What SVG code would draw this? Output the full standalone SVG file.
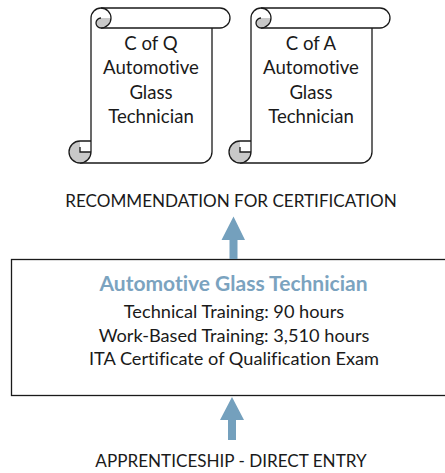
<svg xmlns="http://www.w3.org/2000/svg" width="445" height="473" viewBox="0 0 445 473">
<defs>
<style>
text{font-family:"Lato","Carlito","Liberation Sans",sans-serif;fill:#1a1a1a;text-anchor:middle;font-variant-ligatures:none}
.s{font-size:18.6px}
.m{font-size:18.2px}
.u{font-size:17.1px}
.t{font-weight:700;font-size:21px;fill:#7ba3bf}
.o{fill:#fff;stroke:#1a1a1a;stroke-width:1.3}
.n{fill:none;stroke:#1a1a1a;stroke-width:1.3}
.c{fill:#c8c8c8;stroke:none}
.a{fill:#74a0bd}
</style>
<g id="scroll">
<path class="o" d="M91 152V18A10 10 0 0 1 101 8H220A10 10 0 0 1 220 28H101M212 28V152A11 11 0 0 1 201 163H80"/>
<path class="c" d="M101 28A5 5 0 0 1 101 18H110.500A10 10 0 0 1 101 28Z"/>
<path class="n" d="M101 8A10 10 0 0 1 101 28A5 5 0 0 1 101 18"/>
<path class="c" d="M80 141A11 11 0 1 0 91 152H80Z"/>
<path class="n" d="M91 152A11 11 0 0 1 80 163A11 11 0 0 1 80 141H91M91 152H80V147"/>
</g>
</defs>
<g id="node-cofq">
<use href="#scroll"/>
<text class="s" x="151" y="50">C of Q</text>
<text class="s" x="151" y="74">Automotive</text>
<text class="s" x="151" y="98.500">Glass</text>
<text class="s" x="151" y="123">Technician</text>
</g>
<g id="node-cofa">
<use href="#scroll" x="160"/>
<text class="s" x="311" y="50">C of A</text>
<text class="s" x="311" y="74">Automotive</text>
<text class="s" x="311" y="98.500">Glass</text>
<text class="s" x="311" y="123">Technician</text>
</g>
<g id="node-recommendation"><text class="u" x="231" y="207">RECOMMENDATION FOR CERTIFICATION</text></g>
<g id="node-main">
<rect x="11.500" y="259.500" width="440" height="136" fill="#fff" stroke="#1a1a1a" stroke-width="1.3"/>
<text class="t" x="233.500" y="291">Automotive Glass Technician</text>
<text class="m" x="234" y="317.500">Technical Training: 90 hours</text>
<text class="m" x="234" y="341.500">Work-Based Training: 3,510 hours</text>
<text class="m" x="234" y="365">ITA Certificate of Qualification Exam</text>
</g>
<g id="node-entry"><text class="u" x="231" y="467">APPRENTICESHIP - DIRECT ENTRY</text></g>
<g id="connectors">
<path class="a" d="M233.500 216.500L245 240H237.500V259H229.500V240H221.500Z"/>
<path class="a" d="M232 397L244 420H236V440H228V420H220Z"/>
</g>
</svg>
